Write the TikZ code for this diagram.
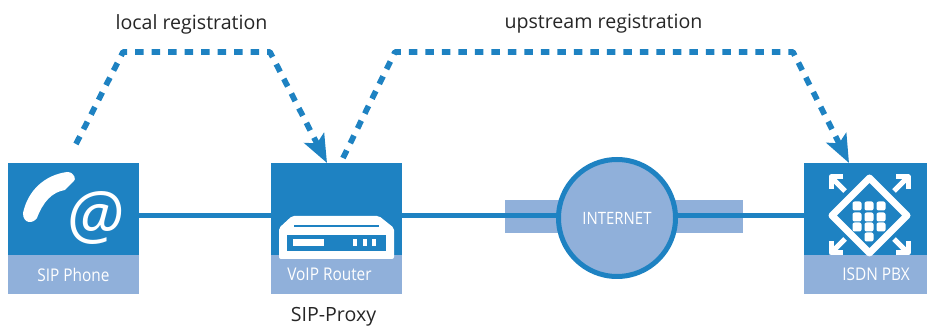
\documentclass[tikz,border=0pt]{standalone}
\usepackage{fontspec}
\setmainfont{Open Sans}
\newfontfamily\labelfont[FakeStretch=0.88]{Open Sans}
\usepackage{tikz}
\usetikzlibrary{arrows.meta,shapes}
\definecolor{netblue}{HTML}{1E82C2}
\definecolor{netlight}{HTML}{90B0DA}
\tikzset{
  devbox/.style={fill=netblue,inner sep=0pt,minimum width=131bp,minimum height=92bp},
  devlabel/.style={fill=netlight,text=white,inner sep=0pt,minimum width=131bp,minimum height=39bp,font=\labelfont\fontsize{17.5bp}{19bp}\selectfont},
  link/.style={draw=netblue,line width=5bp},
  regline/.style={draw=netblue,line width=5.7bp,dash pattern=on 8.5bp off 8bp,-{Stealth[length=28bp,width=22bp,inset=6bp]}},
  caption/.style={inner sep=0pt,text=black!85,font=\fontsize{19.6bp}{22bp}\selectfont},
  iconline/.style={draw=white,line join=round},
}
\begin{document}
\begin{tikzpicture}[line join=bevel]
\useasboundingbox (0bp,0bp) rectangle (927bp,327bp);
%% devices
\node (phone) at (73.5bp,118bp) [devbox] {};
  \node (phonelabel) at (73.5bp,52.5bp) [devlabel] {SIP Phone};
  \node (router) at (336.5bp,118bp) [devbox] {};
  \node (routerlabel) at (336.5bp,52.5bp) [devlabel] {\hspace*{-14bp}VoIP Router};
  \node (pbx) at (865.5bp,118bp) [devbox,minimum width=123bp] {};
  \node (pbxlabel) at (865.5bp,52.5bp) [devlabel,minimum width=123bp] {\hspace*{21bp}ISDN PBX};
%% router icon
\fill [white,rounded corners=2bp] (292bp,111bp) -- (379bp,111bp) -- (394bp,99bp) -- (394bp,68bp) -- (279bp,68bp) -- (279bp,99bp) -- cycle;
  \fill [netblue] (294bp,102bp) -- (379bp,102bp) -- (379bp,100bp) -- (294bp,100bp) -- cycle;
  \fill [netblue] (287bp,92bp) rectangle (386bp,76bp);
  \fill [white] (293bp,88bp) rectangle (324bp,81bp);
  \foreach \x in {353,363,372} {
    \fill [white] (\x bp,88bp) rectangle (\x bp+3.5bp,81bp);
  }
%% internet
\node (band) at (624bp,110.5bp) [fill=netlight,inner sep=0pt,minimum width=238bp,minimum height=33bp] {};
  \node (inet) at (617bp,109bp) [circle,draw=netblue,line width=5bp,fill=netlight,inner sep=0pt,minimum size=117bp,text=white,font=\labelfont\fontsize{17bp}{19bp}\selectfont] {INTERNET};
  \coordinate (lan) at (0bp,111.5bp);
  \draw [link] (phone.east |- lan) -- (router.west |- lan);
  \draw [link] (router.east |- lan) -- (inet.west |- lan);
  \draw [link] (inet.east |- lan) -- (pbx.west |- lan);
%% registrations
\coordinate (localstart) at (76bp,183bp);
  \coordinate (localtip) at (327bp,164bp);
  \coordinate (upstart) at (343bp,169bp);
  \coordinate (uptip) at (849bp,164bp);
  \draw [regline] (localstart) -- (123bp,275bp) -- (270bp,275bp) -- (localtip);
  \draw [regline] (upstart) -- (395bp,275bp) -- (793bp,275bp) -- (uptip);
  \node (localreg) at (191.5bp,303bp) [caption] {local registration};
  \node (upreg) at (603.5bp,303bp) [caption] {upstream registration};
  \node (proxy) at (333.5bp,10bp) [caption] {SIP-Proxy};
%% phone icon
\fill [white] (23bp,114bp) .. controls (28bp,137bp) and (45bp,152bp) .. (67bp,155bp)
  .. controls (75bp,155bp) and (76bp,147bp) .. (74bp,146bp)
  -- (65bp,137bp)
  .. controls (52bp,135bp) and (43bp,125bp) .. (37bp,109bp)
  .. controls (33bp,103bp) and (23bp,103bp) .. (23bp,114bp) -- cycle;
  \node (at) at (95bp,109bp) [inner sep=0pt,text=white,font=\itshape\fontsize{66bp}{66bp}\selectfont] {@};
%% pbx icon
\draw [iconline,line width=7bp] (869.5bp,149bp) -- (907bp,111.5bp) -- (869.5bp,74bp) -- (832bp,111.5bp) -- cycle;
  \foreach \x/\y in {857/121,869/121,881/121,857/110,869/110,881/110,857/100,869/100,881/100,869/90} {
    \fill [white,rounded corners=2bp] (\x bp-4.5bp,\y bp-4.5bp) rectangle (\x bp+4.5bp,\y bp+4.5bp);
  }
  \foreach \x/\y/\sx/\sy in {831/150/1/-1,908/150/-1/-1,831/74/1/1,908/74/-1/1} {
    \draw [iconline,line width=5bp] (\x bp+\sx*12bp,\y bp) -- (\x bp,\y bp) -- (\x bp,\y bp+\sy*12bp);
    \draw [iconline,line width=5bp] (\x bp,\y bp) -- (\x bp+\sx*14bp,\y bp+\sy*14bp);
  }
\end{tikzpicture}
\end{document}
